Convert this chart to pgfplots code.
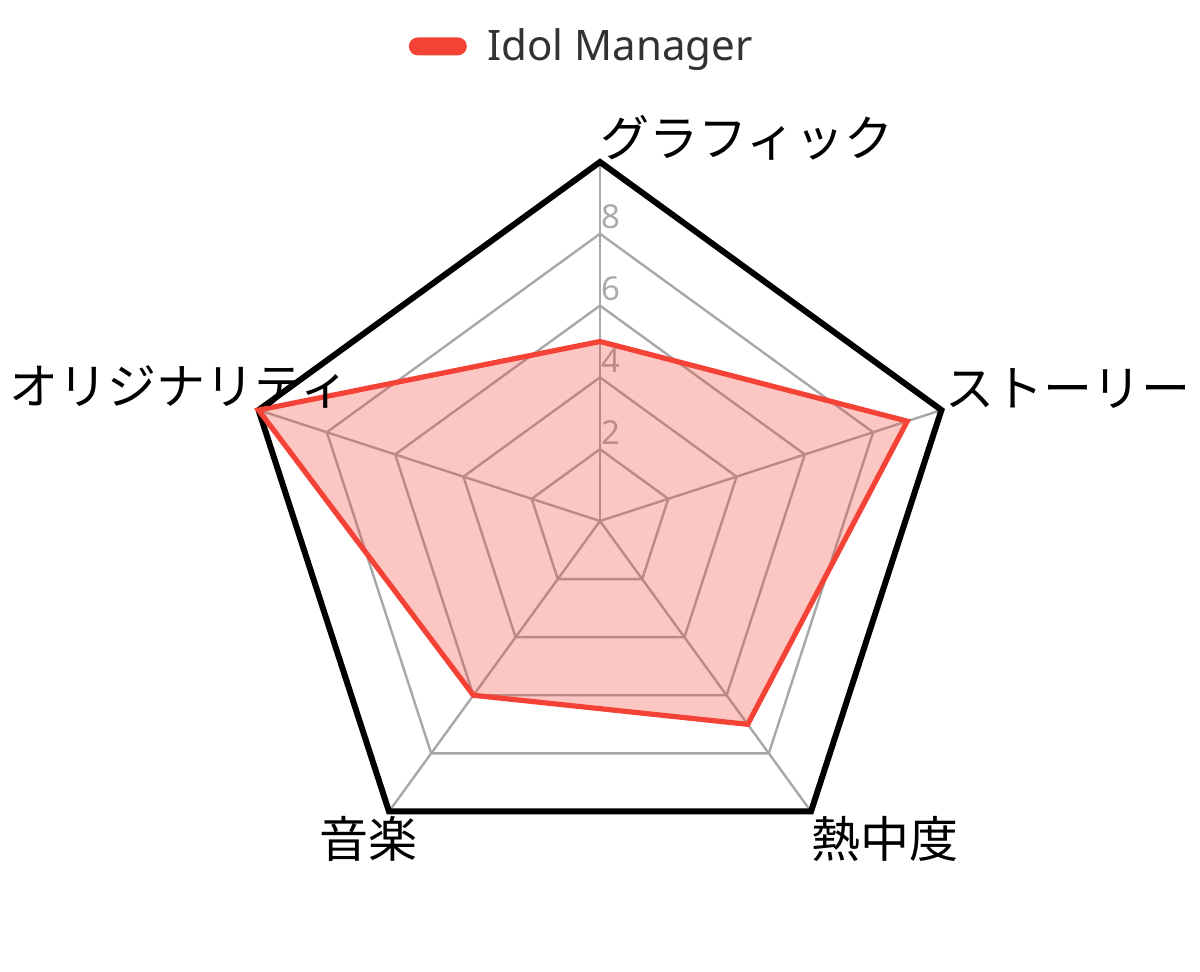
\documentclass[border=0pt]{standalone}
\usepackage{fontspec}
\setmainfont{Noto Sans}
\newfontfamily\jp{Noto Sans CJK JP}
\usepackage{pgfplots}
\pgfplotsset{compat=1.18}
\usepgfplotslibrary{polar}
\definecolor{linered}{RGB}{244,67,54}
\definecolor{gridgray}{RGB}{168,168,168}
\definecolor{ticklab}{RGB}{170,170,170}
\definecolor{legtext}{RGB}{50,50,50}

\begin{document}
\begin{tikzpicture}
  \path[use as bounding box] (0,0) rectangle (600pt,485.5pt);
  \begin{polaraxis}[
      at={(300pt,225pt)}, anchor=center,
      width=359pt, height=359pt, scale only axis,
      hide axis,
      xmin=0, xmax=360, ymin=0, ymax=10,
      clip=false,
      legend style={at={(0.476,1.161)}, anchor=center, draw=none,
        fill=none, font=\fontsize{21}{24}\selectfont\color{legtext},
        inner sep=0pt},
      legend image code/.code={
        \fill[linered, draw=none, fill opacity=1, rounded corners=4.5pt]
          (-2pt,-4.5pt) rectangle (27pt,4.5pt);
        \path (34pt,0pt);},
      legend cell align=left,
      every axis plot/.append style={line join=miter},
    ]
    % grid pentagons
    \addplot[gridgray, line width=1.2pt, forget plot] coordinates
      {(90,2)(18,2)(306,2)(234,2)(162,2)} -- cycle;
    \addplot[gridgray, line width=1.2pt, forget plot] coordinates
      {(90,4)(18,4)(306,4)(234,4)(162,4)} -- cycle;
    \addplot[gridgray, line width=1.2pt, forget plot] coordinates
      {(90,6)(18,6)(306,6)(234,6)(162,6)} -- cycle;
    \addplot[gridgray, line width=1.2pt, forget plot] coordinates
      {(90,8)(18,8)(306,8)(234,8)(162,8)} -- cycle;
    % spokes
    \addplot[gridgray, line width=1.2pt, forget plot] coordinates {(90,0)(90,10)};
    \addplot[gridgray, line width=1.2pt, forget plot] coordinates {(18,0)(18,10)};
    \addplot[gridgray, line width=1.2pt, forget plot] coordinates {(306,0)(306,10)};
    \addplot[gridgray, line width=1.2pt, forget plot] coordinates {(234,0)(234,10)};
    \addplot[gridgray, line width=1.2pt, forget plot] coordinates {(162,0)(162,10)};
    % outer frame
    \addplot[black, line width=3pt, forget plot] coordinates
      {(90,10)(18,10)(306,10)(234,10)(162,10)} -- cycle;
    % radial tick labels
    \foreach \r in {2,4,6,8} {
      \edef\temp{\noexpand\node[anchor=base west, inner sep=0pt, xshift=0.8pt,
        yshift=2.5pt, text=ticklab, font=\noexpand\fontsize{16.5}{19}\noexpand\selectfont]
        at (axis cs:90,\r) {\r};}
      \temp
    }
    % data
    \addplot[draw=linered, line width=2.6pt, fill=linered, fill opacity=0.3]
      coordinates {(90,5)(18,9)(306,7)(234,6)(162,10)} -- cycle;
    \addlegendentry{Idol Manager}
    % category labels
    \node[anchor=base west, inner sep=0pt, yshift=3pt,
      font=\jp\fontsize{24.5}{29}\selectfont] at (axis cs:90,10) {グラフィック};
    \node[anchor=base west, inner sep=0pt, xshift=2pt, yshift=2pt,
      font=\jp\fontsize{24.5}{29}\selectfont] at (axis cs:18,10) {ストーリー};
    \node[anchor=base west, inner sep=0pt, yshift=-23pt,
      font=\jp\fontsize{24.5}{29}\selectfont] at (axis cs:306,10) {熱中度};
    \node[anchor=base east, inner sep=0pt, xshift=14.5pt, yshift=-23pt,
      font=\jp\fontsize{24.5}{29}\selectfont] at (axis cs:234,10) {音楽};
    \node[anchor=base east, inner sep=0pt, xshift=45.5pt, yshift=3pt,
      font=\jp\fontsize{24.5}{29}\selectfont] at (axis cs:162,10) {オリジナリティ};
  \end{polaraxis}
\end{tikzpicture}
\end{document}
